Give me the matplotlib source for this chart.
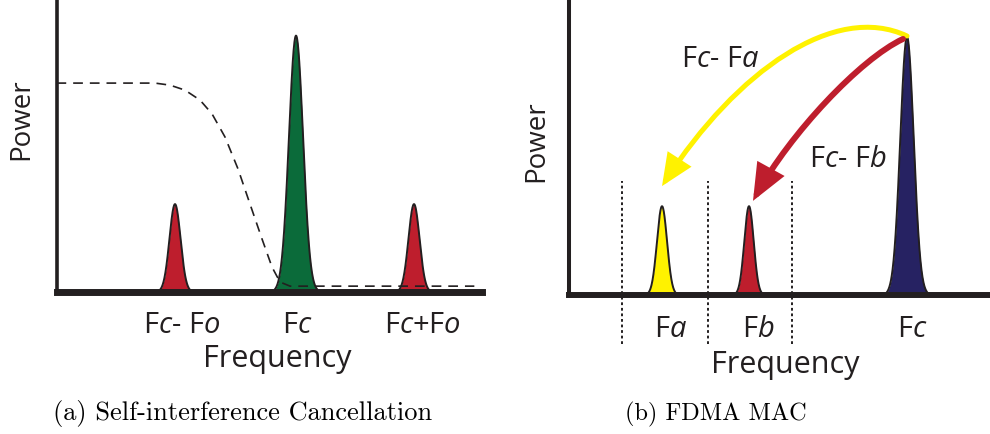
import numpy as np
import matplotlib
matplotlib.use('Agg')
import matplotlib.pyplot as plt
from matplotlib.patches import FancyArrowPatch
from matplotlib.path import Path

plt.rcParams['mathtext.fontset'] = 'custom'
plt.rcParams['mathtext.rm'] = 'Open Sans'
plt.rcParams['mathtext.it'] = 'Open Sans:italic'
plt.rcParams['lines.scale_dashes'] = False

PRETO = '#231F20'

# (a) Self-interference Cancellation
picos_a_x = [2.785, 5.629, 8.402]
picos_a_h = [0.30, 0.875, 0.30]
picos_a_w = [0.13, 0.165, 0.13]
picos_a_cor = ['#BE1E2D', '#0B6B3A', '#BE1E2D']
rotulos_a = [r'F$\mathit{c}$- F$\mathit{o}$', r'F$\mathit{c}$', r'F$\mathit{c}$+F$\mathit{o}$']
rotulos_a_x = [2.95, 5.65, 8.59]

# curva do filtro (tracejada)
filtro_x = [0.0, 2.315, 2.667, 3.02, 3.373, 3.655, 3.96, 4.266, 4.548, 4.83, 5.065, 5.253, 5.488, 9.82]
filtro_y = [0.713, 0.713, 0.706, 0.689, 0.655, 0.608, 0.529, 0.420, 0.300, 0.181, 0.085, 0.034, 0.020, 0.020]

# (b) FDMA MAC
picos_b_x = [2.22, 4.296, 8.067]
picos_b_h = [0.30, 0.30, 0.872]
picos_b_w = [0.12, 0.112, 0.16]
picos_b_cor = ['#FFF200', '#BE1E2D', '#262262']
rotulos_b = [r'F$\mathit{a}$', r'F$\mathit{b}$', r'F$\mathit{c}$']
rotulos_b_x = [2.43, 4.51, 8.19]
divisores_x = [1.265, 3.317, 5.322]


################################################################################
# Desenha um pico (gaussiano) preenchido com contorno preto
def pico(ax, c, h, w, cor):
    x = np.linspace(c - 3 * w, c + 3 * w, 200)
    y = h * np.exp(-0.5 * ((x - c) / w) ** 2)
    ax.fill_between(x, 0, y, color=cor, lw=0, zorder=2)
    ax.plot(x, y, color=PRETO, lw=1.4, zorder=3)


def eixos(fig, ret, lw_x, lw_y):
    ax = fig.add_axes(ret)
    ax.set_xlim(0, 10)
    ax.set_ylim(0, 1)
    ax.set_xticks([])
    ax.set_yticks([])
    ax.patch.set_alpha(0)
    for s in ['top', 'right']:
        ax.spines[s].set_visible(False)
    ax.spines['bottom'].set_linewidth(lw_x)
    ax.spines['left'].set_linewidth(lw_y)
    ax.spines['bottom'].set_color(PRETO)
    ax.spines['left'].set_color(PRETO)
    return ax


def seta(ax, pts, cor, lw, hl, hw):
    caminho = Path(pts, [Path.MOVETO, Path.CURVE4, Path.CURVE4, Path.CURVE4])
    a = FancyArrowPatch(path=caminho, arrowstyle='-|>,head_length=%s,head_width=%s' % (hl, hw),
                        mutation_scale=10, color=cor, lw=lw, transform=ax.transData,
                        clip_on=False, zorder=5, capstyle='round', joinstyle='miter')
    ax.add_patch(a)


texto = dict(family='Open Sans', color=PRETO, ha='center', va='baseline')

fig = plt.figure(figsize=(9.9, 4.35), dpi=100)

# ---- painel (a)
ax1 = eixos(fig, [56.5 / 990, 142 / 435, 425.5 / 990, 293 / 435], 5.0, 2.6)
for c, h, w, cor in zip(picos_a_x, picos_a_h, picos_a_w, picos_a_cor):
    pico(ax1, c, h, w, cor)
ax1.plot(filtro_x, filtro_y, color=PRETO, lw=1.2, ls=(0, (7, 5)), zorder=4, clip_on=False)
for x, r in zip(rotulos_a_x, rotulos_a):
    ax1.text(x, -0.137, r, fontsize=21, **texto)
ax1.text(5.18, -0.253, 'Frequency', fontsize=22, **texto)
ax1.text(-0.834, 0.594, 'Power', rotation=90, fontsize=20, family='Open Sans',
         color=PRETO, ha='center', va='center')

# ---- painel (b)
ax2 = eixos(fig, [569 / 990, 139 / 435, 419 / 990, 296 / 435], 4.3, 2.9)
for c, h, w, cor in zip(picos_b_x, picos_b_h, picos_b_w, picos_b_cor):
    pico(ax2, c, h, w, cor)
ax2.vlines(divisores_x, -0.166, 0.385, colors=PRETO, lw=1.4, linestyles=(0, (2, 2)),
           clip_on=False, zorder=4)
for x, r in zip(rotulos_b_x, rotulos_b):
    ax2.text(x, -0.137, r, fontsize=21, **texto)
ax2.text(5.16, -0.26, 'Frequency', fontsize=22, **texto)
ax2.text(-0.79, 0.524, 'Power', rotation=90, fontsize=20, family='Open Sans',
         color=PRETO, ha='center', va='center')

# setas de deslocamento de frequencia
seta(ax2, [(8.067, 0.875), (6.348, 0.99), (4.00, 0.757), (2.22, 0.368)], '#FFF200', 3.6, 1.7, 0.75)
seta(ax2, [(7.971, 0.865), (6.945, 0.797), (5.274, 0.544), (4.391, 0.318)], '#BE1E2D', 4.3, 1.9, 0.8)
ax2.text(3.60, 0.774, r'F$\mathit{c}$- F$\mathit{a}$', fontsize=21, **texto)
ax2.text(6.66, 0.436, r'F$\mathit{c}$- F$\mathit{b}$', fontsize=21, **texto)

# legendas das figuras
fig.text(243 / 990, 15 / 435, '(a) Self-interference Cancellation', family='cmr10',
         fontsize=19, ha='center', va='baseline')
fig.text(716 / 990, 15 / 435, '(b) FDMA MAC', family='cmr10',
         fontsize=17.5, ha='center', va='baseline')

fig.savefig('out.png', dpi=100)
